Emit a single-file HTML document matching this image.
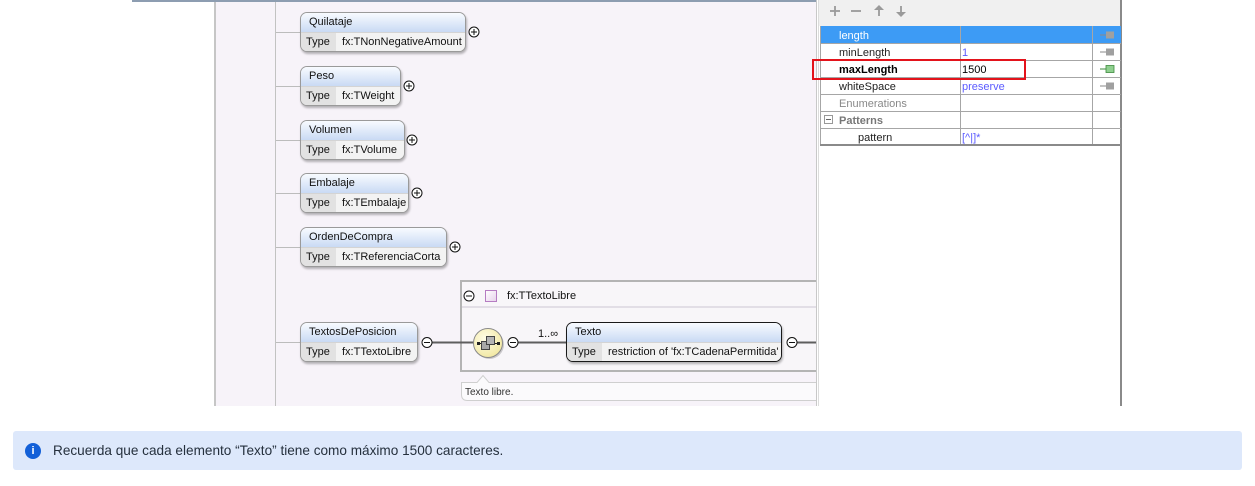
<!DOCTYPE html>
<html><head><meta charset="utf-8">
<style>
html,body{margin:0;padding:0;background:#fff;}
body{width:1255px;height:486px;overflow:hidden;position:relative;font-family:"Liberation Sans",Arial,sans-serif;}
svg{position:absolute;left:0;top:0;}
.box{position:absolute;height:40px;border:1px solid #9a9a9a;border-radius:7px;overflow:hidden;box-shadow:1px 2px 2px rgba(0,0,0,.28);box-sizing:border-box;font-size:11px;color:#111;background:#f3f3f3;}
.hd{height:19px;line-height:19px;padding-left:8px;background:linear-gradient(#f8fbff,#c9daf4);border-bottom:1px solid #d4d4d4;white-space:nowrap;}
.rw{height:19px;line-height:19px;display:flex;white-space:nowrap;}
.t{width:35px;flex:none;background:#e2e2e2;padding-left:5px;box-sizing:border-box;}
.v{flex:1;background:#f3f3f3;padding-left:6px;}
.sel{border:1px solid #1a1a1a;}
.banner{position:absolute;left:13px;top:431px;width:1229px;height:39px;background:#dde8fb;border-radius:3px;}
.banner .ic{position:absolute;left:12px;top:12px;width:16px;height:16px;border-radius:50%;background:#1360d8;color:#fff;font:bold 11px "Liberation Sans",sans-serif;text-align:center;line-height:16px;}
.banner .tx{position:absolute;left:40px;top:12px;font-size:13.6px;color:#25303d;white-space:nowrap;}
</style></head><body>

<svg width="1255" height="410" viewBox="0 0 1255 410" xmlns="http://www.w3.org/2000/svg" font-family="Liberation Sans, Arial, sans-serif">
  <defs>
    <radialGradient id="yel" cx="40%" cy="35%" r="70%">
      <stop offset="0" stop-color="#fffde6"/>
      <stop offset="1" stop-color="#f1e7a0"/>
    </radialGradient>
    <linearGradient id="pur" x1="0" y1="0" x2="1" y2="1">
      <stop offset="0" stop-color="#ffffff"/>
      <stop offset="1" stop-color="#e6d2ea"/>
    </linearGradient>
  </defs>
  <rect x="132" y="0" width="684" height="2" fill="#8d9db1"/>
  <rect x="216" y="2" width="600" height="404" fill="#f7f3f9"/>
  <rect x="214" y="2" width="2" height="404" fill="#c6c6c6"/>
  <line x1="275.5" y1="2" x2="275.5" y2="406" stroke="#c2c2c2" stroke-width="1"/>
  <g stroke="#bcbcbc" stroke-width="1">
    <line x1="276" y1="32.5" x2="300" y2="32.5"/>
    <line x1="276" y1="86.5" x2="300" y2="86.5"/>
    <line x1="276" y1="140.5" x2="300" y2="140.5"/>
    <line x1="276" y1="193.5" x2="300" y2="193.5"/>
    <line x1="276" y1="247.5" x2="300" y2="247.5"/>
    <line x1="276" y1="342.5" x2="300" y2="342.5"/>
  </g>

  <rect x="461" y="281" width="400" height="90" fill="#f8f6f9" stroke="#b4b4b4" stroke-width="2"/>
  <rect x="462" y="306" width="360" height="2" fill="#e2dee6"/>
  <rect x="485.5" y="290.5" width="11" height="11" fill="url(#pur)" stroke="#b57cc2" stroke-width="1"/>
  <text x="507" y="299" font-size="11" fill="#111">fx:TTextoLibre</text>

  <path d="M461.5,382.5 H477 L483,375.5 L489,382.5 H830 V400.5 H467.5 Q461.5,400.5 461.5,394.5 Z" fill="#fbfafc" stroke="#cfcfcf" stroke-width="1"/>
  <text x="465" y="395" font-size="10" fill="#333">Texto libre.</text>

  <g stroke="#5e5e5e" stroke-width="2">
    <line x1="432" y1="342.5" x2="475" y2="342.5"/>
    <line x1="518" y1="342.5" x2="567" y2="342.5"/>
    <line x1="797" y1="342.5" x2="817" y2="342.5"/>
  </g>
  <text x="538" y="337" font-size="11" fill="#111">1..∞</text>

  <circle cx="489.5" cy="344.5" r="14.5" fill="rgba(0,0,0,0.18)"/>
  <circle cx="488" cy="343" r="14.5" fill="url(#yel)" stroke="#8a8a8a" stroke-width="1"/>
  <line x1="477" y1="343.5" x2="500" y2="343.5" stroke="#222" stroke-width="1"/>
  <rect x="477" y="342" width="3" height="3" fill="#222"/>
  <rect x="497" y="342" width="3" height="3" fill="#222"/>
  <rect x="481.5" y="341.5" width="8" height="8" fill="#a8a8a8" stroke="#444" stroke-width="1"/>
  <rect x="486.5" y="336.5" width="8" height="8" fill="#b4b4b4" stroke="#444" stroke-width="1"/>

  <g fill="#fff" stroke="#111" stroke-width="1">
    <circle cx="427" cy="342.5" r="5"/>
    <circle cx="469" cy="296" r="5"/>
    <circle cx="513" cy="342.5" r="5"/>
    <circle cx="792" cy="342.5" r="5"/>
    <circle cx="474" cy="32" r="5"/>
    <circle cx="409" cy="86" r="5"/>
    <circle cx="412" cy="140" r="5"/>
    <circle cx="417" cy="193" r="5"/>
    <circle cx="455" cy="247" r="5"/>
  </g>
  <g stroke="#111" stroke-width="1">
    <line x1="424" y1="342.5" x2="430" y2="342.5"/>
    <line x1="466" y1="296" x2="472" y2="296"/>
    <line x1="510" y1="342.5" x2="516" y2="342.5"/>
    <line x1="789" y1="342.5" x2="795" y2="342.5"/>
    <line x1="471" y1="32" x2="477" y2="32"/><line x1="474" y1="29" x2="474" y2="35"/>
    <line x1="406" y1="86" x2="412" y2="86"/><line x1="409" y1="83" x2="409" y2="89"/>
    <line x1="409" y1="140" x2="415" y2="140"/><line x1="412" y1="137" x2="412" y2="143"/>
    <line x1="414" y1="193" x2="420" y2="193"/><line x1="417" y1="190" x2="417" y2="196"/>
    <line x1="452" y1="247" x2="458" y2="247"/><line x1="455" y1="244" x2="455" y2="250"/>
  </g>

  <rect x="816" y="0" width="306" height="406" fill="#ffffff"/>
  <rect x="816" y="0" width="1" height="406" fill="#c8c8c8"/>
  <rect x="818" y="0" width="1" height="406" fill="#dcdcdc"/>
  <rect x="819" y="0" width="302" height="26" fill="#f0f0f0"/>
  <rect x="1120" y="0" width="2" height="406" fill="#8a8a8a"/>
  <g stroke="#9a9a9a" stroke-width="1.8" fill="none">
    <line x1="830" y1="11" x2="840" y2="11"/><line x1="835" y1="6" x2="835" y2="16"/>
    <line x1="851" y1="11" x2="861" y2="11"/>
    <line x1="879" y1="9" x2="879" y2="16"/>
    <line x1="901" y1="6" x2="901" y2="13"/>
  </g>
  <g fill="#9a9a9a">
    <polygon points="874,10 884,10 879,5"/>
    <polygon points="896,12 906,12 901,17"/>
  </g>
  <rect x="820" y="26" width="301" height="17" fill="#3d9bf5"/>
  <g stroke="#a6a6a6" stroke-width="1">
    <line x1="820.5" y1="26" x2="820.5" y2="145"/>
    <line x1="960.5" y1="26" x2="960.5" y2="145"/>
    <line x1="1092.5" y1="26" x2="1092.5" y2="145"/>
    <line x1="820" y1="43.5" x2="1121" y2="43.5"/>
    <line x1="820" y1="60.5" x2="1121" y2="60.5"/>
    <line x1="820" y1="77.5" x2="1121" y2="77.5"/>
    <line x1="820" y1="94.5" x2="1121" y2="94.5"/>
    <line x1="820" y1="111.5" x2="1121" y2="111.5"/>
    <line x1="820" y1="128.5" x2="1121" y2="128.5"/>
    <line x1="820" y1="145" x2="1121" y2="145" stroke-width="2" stroke="#8a8a8a"/>
  </g>
  <g font-size="11">
    <text x="839" y="39" fill="#fff">length</text>
    <text x="839" y="56" fill="#222">minLength</text>
    <text x="839" y="73" fill="#000" font-weight="bold">maxLength</text>
    <text x="839" y="90" fill="#222">whiteSpace</text>
    <text x="839" y="107" fill="#888">Enumerations</text>
    <text x="839" y="124" fill="#777" font-weight="bold">Patterns</text>
    <text x="858" y="141" fill="#222">pattern</text>
    <text x="962" y="56" fill="#5b5bff">1</text>
    <text x="962" y="73" fill="#000">1500</text>
    <text x="962" y="90" fill="#5b5bff">preserve</text>
    <text x="962" y="141" fill="#5b5bff">[^|]*</text>
  </g>
  <rect x="824.5" y="115.5" width="8" height="8" fill="#fff" stroke="#999"/>
  <line x1="826" y1="119.5" x2="831" y2="119.5" stroke="#666"/>
  <g>
    <line x1="1100" y1="35" x2="1106" y2="35" stroke="#8a8a8a"/><rect x="1106" y="31.5" width="8" height="7" fill="#a0a0a0"/>
    <line x1="1100" y1="52" x2="1106" y2="52" stroke="#8a8a8a"/><rect x="1106" y="48.5" width="8" height="7" fill="#a0a0a0"/>
    <line x1="1100" y1="69" x2="1106" y2="69" stroke="#3c8a3c"/><rect x="1106" y="65.5" width="8" height="7" fill="#8fd08f" stroke="#3c8a3c" stroke-width="0.8"/>
    <line x1="1100" y1="86" x2="1106" y2="86" stroke="#8a8a8a"/><rect x="1106" y="82.5" width="8" height="7" fill="#a0a0a0"/>
  </g>
  <rect x="813" y="60" width="212" height="19" fill="none" stroke="#e3131b" stroke-width="2"/>
</svg>

<div class="box" style="left:300px;top:12px;width:166px;"><div class="hd">Quilataje</div><div class="rw"><span class="t">Type</span><span class="v">fx:TNonNegativeAmount</span></div></div>
<div class="box" style="left:300px;top:66px;width:101px;"><div class="hd">Peso</div><div class="rw"><span class="t">Type</span><span class="v">fx:TWeight</span></div></div>
<div class="box" style="left:300px;top:120px;width:105px;"><div class="hd">Volumen</div><div class="rw"><span class="t">Type</span><span class="v">fx:TVolume</span></div></div>
<div class="box" style="left:300px;top:173px;width:109px;"><div class="hd">Embalaje</div><div class="rw"><span class="t">Type</span><span class="v">fx:TEmbalaje</span></div></div>
<div class="box" style="left:300px;top:227px;width:147px;"><div class="hd">OrdenDeCompra</div><div class="rw"><span class="t">Type</span><span class="v">fx:TReferenciaCorta</span></div></div>
<div class="box" style="left:300px;top:322px;width:118px;"><div class="hd">TextosDePosicion</div><div class="rw"><span class="t">Type</span><span class="v">fx:TTextoLibre</span></div></div>
<div class="box sel" style="left:566px;top:322px;width:216px;"><div class="hd">Texto</div><div class="rw"><span class="t">Type</span><span class="v">restriction of 'fx:TCadenaPermitida'</span></div></div>

<div class="banner"><div class="ic">i</div><div class="tx">Recuerda que cada elemento “Texto” tiene como máximo 1500 caracteres.</div></div>

</body></html>
